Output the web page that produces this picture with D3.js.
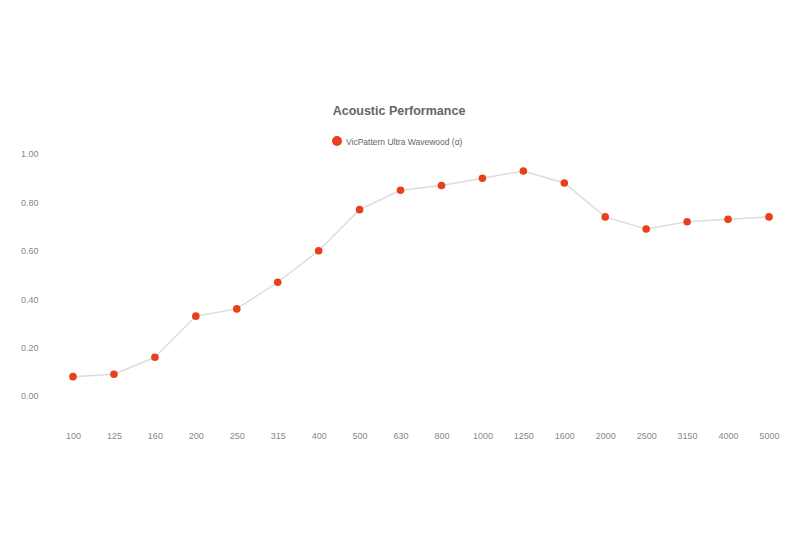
<!DOCTYPE html>
<html><head><meta charset="utf-8">
<script src="https://cdn.jsdelivr.net/npm/d3@7"></script>
<style>body{margin:0;background:#fff}svg{display:block}</style>
</head><body>
<svg id="c" width="800" height="533"></svg>
<script>
const categories = ["100","125","160","200","250","315","400","500","630","800","1000","1250","1600","2000","2500","3150","4000","5000"];
const values = [0.08,0.09,0.16,0.33,0.36,0.47,0.60,0.77,0.85,0.87,0.90,0.93,0.88,0.74,0.69,0.72,0.73,0.74];
const yTicks = [0,0.2,0.4,0.6,0.8,1.0];
const title = "Acoustic Performance";
const seriesName = "VicPattern Ultra Wavewood (α)";

const svg = d3.select("#c");
const font = "Helvetica, Arial, 'Liberation Sans', sans-serif";
const x = d3.scalePoint().domain(categories).range([73, 769]);
const y = d3.scaleLinear().domain([0,1]).range([396, 154]);

svg.append("text").attr("x",399).attr("y",115).attr("text-anchor","middle")
  .attr("font-family",font).attr("font-size",12.5).attr("font-weight","bold")
  .attr("fill","#666").text(title);

svg.append("circle").attr("cx",337).attr("cy",141).attr("r",5).attr("fill","#e8401c");
svg.append("text").attr("x",346).attr("y",144.5).attr("font-family",font)
  .attr("font-size",8.5).attr("fill","#666").text(seriesName);

const yAxis = d3.axisLeft(y).tickValues(yTicks).tickFormat(d3.format(".2f")).tickSize(0).tickPadding(0);
const ya = svg.append("g").attr("transform","translate(21,0)").call(yAxis);
ya.select(".domain").remove();
ya.selectAll("text").attr("text-anchor","start").attr("font-family",font)
  .attr("font-size",9).attr("fill","#888");

const xAxis = d3.axisBottom(x).tickSize(0).tickPadding(0);
const xa = svg.append("g").attr("transform","translate(0,433)").call(xAxis);
xa.select(".domain").remove();
xa.selectAll("text").attr("font-family",font).attr("font-size",9).attr("fill","#888");

const line = d3.line().x((d,i)=>x(categories[i])).y(d=>y(d));
svg.append("path").datum(values).attr("d",line).attr("fill","none")
  .attr("stroke","#dcdcdc").attr("stroke-width",1.5);

svg.selectAll("circle.pt").data(values).enter().append("circle").attr("class","pt")
  .attr("cx",(d,i)=>x(categories[i])).attr("cy",d=>y(d)).attr("r",3.8)
  .attr("fill","#e8401c");
</script>
</body></html>
